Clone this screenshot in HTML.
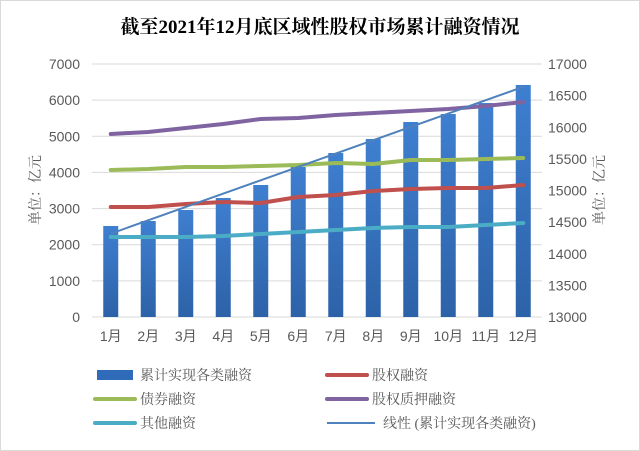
<!DOCTYPE html>
<html><head><meta charset="utf-8">
<style>
body{margin:0;background:#fff;}
svg{display:block;font-family:"Liberation Sans","Noto Sans CJK SC",sans-serif;}
</style></head>
<body>
<svg id="chart" width="640" height="451" viewBox="0 0 640 451" xmlns="http://www.w3.org/2000/svg">
<defs>
<linearGradient id="barg" x1="0" y1="0" x2="0" y2="1">
<stop offset="0" stop-color="#3f7fd0"/><stop offset="1" stop-color="#2c62a8"/>
</linearGradient>
</defs>
<rect x="0.5" y="0.5" width="639" height="450" fill="#fff" stroke="#d9d9d9"/>
<text x="320" y="33" text-anchor="middle" font-size="19" font-weight="bold" font-family="'Liberation Serif','Noto Serif CJK SC',serif">截至2021年12月底区域性股权市场累计融资情况</text>
<g id="grid"></g>
<g id="marks"></g>
<g id="axes"></g>
<text transform="translate(40,190) rotate(-90)" text-anchor="middle" font-size="14" fill="#595959" font-family="'Liberation Serif','Noto Serif CJK SC',serif">单位：亿元</text>
<text transform="translate(604,190) rotate(-90)" text-anchor="middle" font-size="14" fill="#595959" font-family="'Liberation Serif','Noto Serif CJK SC',serif">单位：亿元</text>
<g id="legend" font-family="'Liberation Serif','Noto Serif CJK SC',serif" font-size="14" fill="#595959"></g>
</svg>
<script>
const categories=["1月","2月","3月","4月","5月","6月","7月","8月","9月","10月","11月","12月"];
const cumulative=[14439,14518,14692,14881,15087,15372,15593,15814,16083,16209,16383,16668];
const equity=[3044,3044,3127,3182,3154,3320,3376,3486,3542,3570,3570,3652];
const bonds=[4067,4095,4150,4150,4178,4206,4261,4233,4344,4344,4372,4400];
const pledge=[5064,5119,5230,5340,5479,5506,5589,5645,5700,5755,5838,5949];
const other=[2214,2214,2214,2241,2297,2352,2407,2463,2490,2490,2546,2601];
const leftTicks=[0,1000,2000,3000,4000,5000,6000,7000];
const rightTicks=[13000,13500,14000,14500,15000,15500,16000,16500,17000];

const NS="http://www.w3.org/2000/svg";
const X0=92,X1=542,Y0=317,Y1=64;
const step=(X1-X0)/categories.length;
const xc=i=>X0+step*(i+0.5);
const yl=v=>Y0-(v-0)/7000*(Y0-Y1);
const yr=v=>Y0-(v-13000)/4000*(Y0-Y1);
function mk(tag,attrs,parent){const e=document.createElementNS(NS,tag);for(const k in attrs)e.setAttribute(k,attrs[k]);parent.appendChild(e);return e;}
const grid=document.getElementById('grid'),marks=document.getElementById('marks'),axes=document.getElementById('axes'),legend=document.getElementById('legend');

leftTicks.forEach(v=>{
 const l=mk('line',{x1:X0,x2:X1,y1:yl(v),y2:yl(v),stroke:'#d9d9d9','stroke-width':1},grid);
 
 
 const t=mk('text',{x:80,y:yl(v)+5,'text-anchor':'end','font-size':14,fill:'#595959'},axes);
 t.textContent=v;
 
 
});
rightTicks.forEach(v=>{
 const t=mk('text',{x:548,y:yr(v)+5,'font-size':14,fill:'#595959'},axes);
 t.textContent=v;
 
 
});
categories.forEach((c,i)=>{
 const t=mk('text',{x:xc(i),y:341,'text-anchor':'middle','font-size':14,fill:'#595959'},axes);
 t.textContent=c;
 
 
});
cumulative.forEach((v,i)=>{
 const b=mk('rect',{x:xc(i)-7.5,y:yr(v),width:15,height:Y0-yr(v),fill:'url(#barg)'},marks);
 
 
});
function line(arr,color,name,w){
 const p=mk('polyline',{points:arr.map((v,i)=>xc(i)+','+yl(v)).join(' '),fill:'none',stroke:color,'stroke-width':w,'stroke-linejoin':'round','stroke-linecap':'round'},marks);
 
 
}
line(other,'#4bacc6','line-other',4);
line(equity,'#c0504d','line-equity',4);
line(bonds,'#9bbb59','line-bonds',4);
line(pledge,'#8064a2','line-pledge',4);
// linear trendline of cumulative
const n=cumulative.length;let sx=0,sy=0,sxy=0,sxx=0;
cumulative.forEach((v,i)=>{sx+=i;sy+=v;sxy+=i*v;sxx+=i*i;});
const slope=(n*sxy-sx*sy)/(n*sxx-sx*sx),icpt=(sy-slope*sx)/n;
const tr=mk('line',{x1:xc(0),y1:yr(icpt),x2:xc(n-1),y2:yr(icpt+slope*(n-1)),stroke:'#4f81bd','stroke-width':2},marks);



const items=[
 {x:95,y:375,t:'累计实现各类融资',c:'#2f6bb8',type:'bar',name:'legend-cumulative'},
 {x:327,y:375,t:'股权融资',c:'#c0504d',type:'thick',name:'legend-equity'},
 {x:95,y:399,t:'债券融资',c:'#9bbb59',type:'thick',name:'legend-bonds'},
 {x:327,y:399,t:'股权质押融资',c:'#8064a2',type:'thick',name:'legend-pledge'},
 {x:95,y:423,t:'其他融资',c:'#4bacc6',type:'thick',name:'legend-other'},
 {x:327,y:423,t:'线性 (累计实现各类融资)',c:'#4f81bd',type:'thin',name:'legend-trendline'}
];
items.forEach(it=>{
 const g=mk('g',{},legend);
 
 
 if(it.type==='bar') mk('rect',{x:it.x+2,y:it.y-5,width:36,height:10,fill:it.c},g);
 else if(it.type==='thick') mk('line',{x1:it.x,x2:it.x+40,y1:it.y,y2:it.y,stroke:it.c,'stroke-width':4,'stroke-linecap':'round'},g);
 else mk('line',{x1:it.x,x2:it.x+48,y1:it.y,y2:it.y,stroke:it.c,'stroke-width':2},g);
 const t=mk('text',{x:it.x+(it.type==='thin'?56:45),y:it.y+5},g);
 t.textContent=it.t;
});
</script>
</body></html>
